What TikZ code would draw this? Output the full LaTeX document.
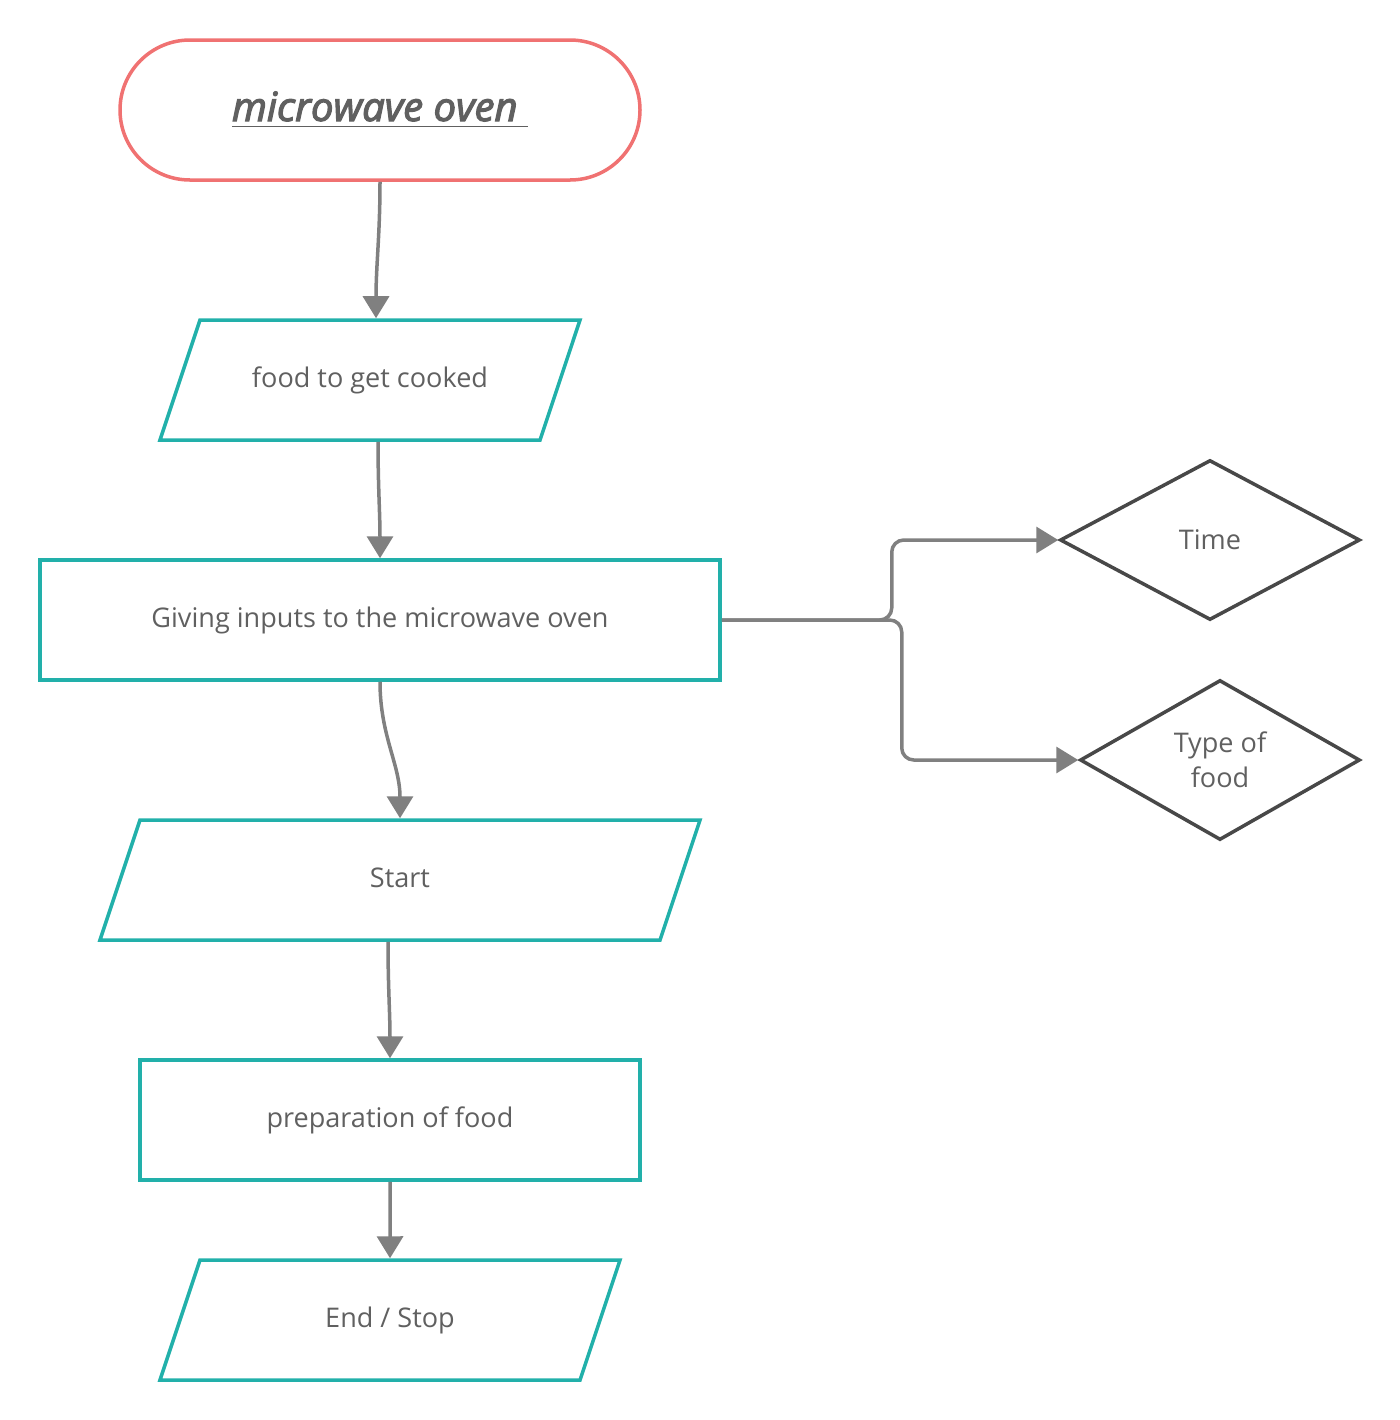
\documentclass[tikz,border=0pt]{standalone}
\usepackage{fontspec}
\setmainfont{Open Sans}
\usetikzlibrary{arrows.meta,positioning,shapes,calc}
\definecolor{flowteal}{HTML}{22B0AA}
\definecolor{flowred}{HTML}{F07272}
\definecolor{flowgrey}{HTML}{808080}
\definecolor{flowdark}{HTML}{484848}
\definecolor{flowtext}{HTML}{606060}
\tikzset{
  every node/.style={
    text=flowtext,
    font=\fontsize{7.7}{10}\selectfont
  },
  terminal state/.style={
    draw=flowred,
    line width=0.035cm,
    rectangle,
    rounded corners=0.7cm,
    minimum width=5.2cm,
    minimum height=1.4cm
  },
  io state/.style={
    draw=flowteal,
    line width=0.035cm,
    trapezium,
    trapezium left angle=71.57,
    trapezium right angle=108.43,
    trapezium stretches body=true,
    text height=0.2cm,
    text depth=0.06cm,
    inner ysep=0.47cm
  },
  process state/.style={
    draw=flowteal,
    line width=0.035cm,
    rectangle,
    minimum height=1.2cm
  },
  decision state/.style={
    draw=flowdark,
    line width=0.035cm,
    diamond,
    aspect=1.875,
    inner sep=0pt,
    align=center,
    minimum height=1.6cm
  },
  link/.style={
    draw,
    color=flowgrey,
    line width=0.035cm,
    -{Triangle[width=0.26cm,length=0.22cm]}
  }
}

\begin{document}
\begin{tikzpicture}
    \useasboundingbox (0,0) rectangle (14,-14.2);
    \path{
      node[terminal state] (oven) at (3.8,-1.1)
        {\fontsize{11.4}{13}\selectfont\itshape\addfontfeature{FakeBold=3}\underline{microwave oven\ }}
      node[io state,minimum width=4.2cm] (food) at (3.7,-3.8) {food to get cooked}
      node[process state,minimum width=6.8cm] (inputs) at (3.8,-6.2) {Giving inputs to the microwave oven}
      node[io state,minimum width=6cm] (start) at (4.0,-8.8) {Start}
      node[process state,minimum width=5cm] (prep) at (3.9,-11.2) {preparation of food}
      node[io state,minimum width=4.6cm] (stop) at (3.9,-13.2) {End / Stop}
      node[decision state,minimum width=3cm] (time) at (12.1,-5.4) {Time}
      node[decision state,minimum width=2.8cm] (type) at (12.2,-7.6) {Type of\\food}
    };

    \path[every edge/.style={link}]{
      (oven.south) edge[out=-90,in=90] ($(food.north)+(0.06,0)$)
      ($(food.south)+(0.08,0)$) edge[out=-90,in=90] (inputs.north)
      (inputs.south) edge[out=-90,in=90] (start.north)
      ($(start.south)+(-0.12,0)$) edge[out=-90,in=90] (prep.north)
      (prep.south) edge (stop.north)
      (inputs.east) edge[rounded corners=0.12cm,to path={-- ++(1.7,0) |- (\tikztotarget)}] (time.west)
      (inputs.east) edge[rounded corners=0.12cm,to path={-- ++(1.8,0) |- (\tikztotarget)}] (type.west)
    };
\end{tikzpicture}
\end{document}
